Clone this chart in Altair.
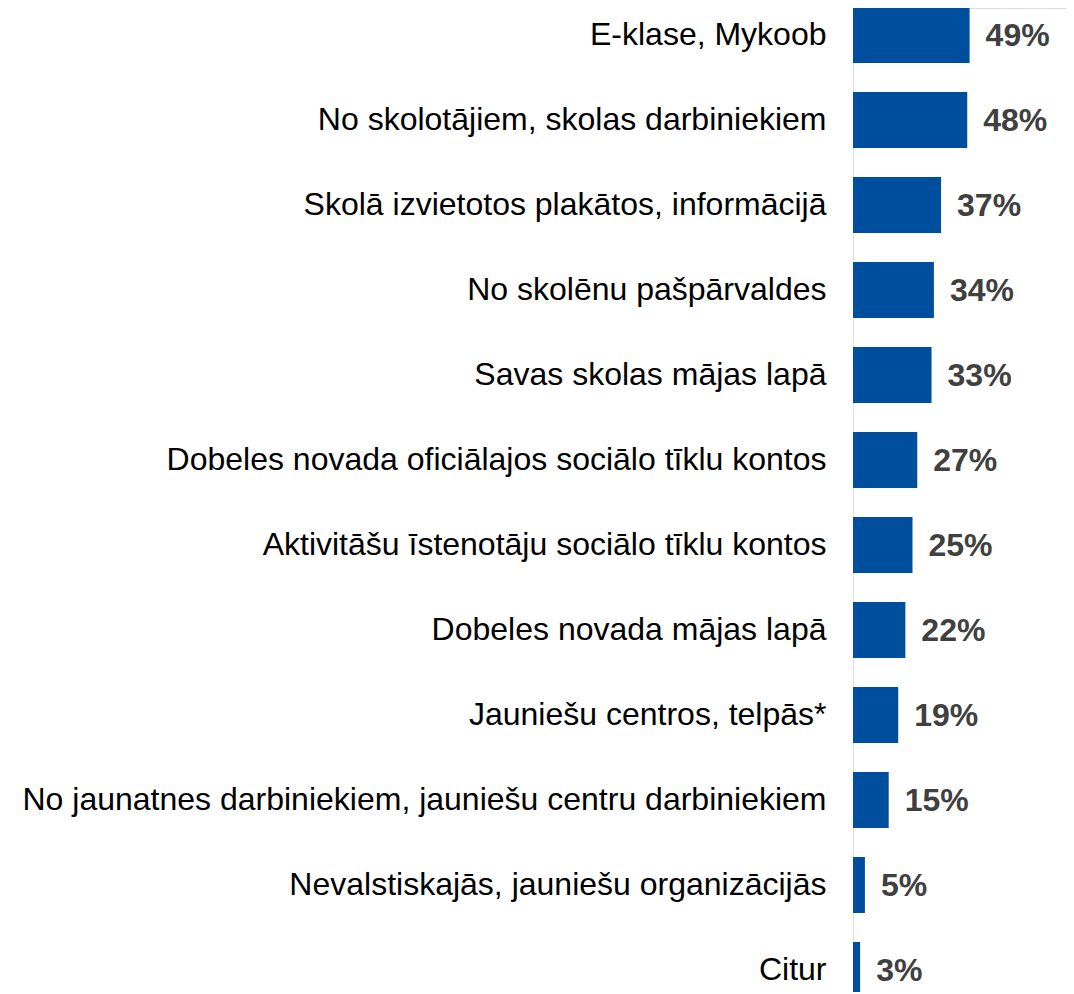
import altair as alt
import pandas as pd

categories = [
    "E-klase, Mykoob",
    "No skolotājiem, skolas darbiniekiem",
    "Skolā izvietotos plakātos, informācijā",
    "No skolēnu pašpārvaldes",
    "Savas skolas mājas lapā",
    "Dobeles novada oficiālajos sociālo tīklu kontos",
    "Aktivitāšu īstenotāju sociālo tīklu kontos",
    "Dobeles novada mājas lapā",
    "Jauniešu centros, telpās*",
    "No jaunatnes darbiniekiem, jauniešu centru darbiniekiem",
    "Nevalstiskajās, jauniešu organizācijās",
    "Citur",
]
values = [49, 48, 37, 34, 33, 27, 25, 22, 19, 15, 5, 3]
labels = [f"{v}%" for v in values]

df = pd.DataFrame({"cat": categories, "val": values, "lab": labels})

y = alt.Y(
    "cat:N",
    sort=categories,
    title=None,
    scale=alt.Scale(range=[-1, 990], paddingInner=0.341, paddingOuter=0),
    axis=alt.Axis(
        domain=False,
        ticks=False,
        grid=False,
        labelFont="Liberation Sans",
        labelFontSize=32,
        labelColor="#000000",
        labelPadding=27,
        labelLimit=2000,
    ),
)
x = alt.X(
    "val:Q",
    scale=alt.Scale(domain=[0, 89.5]),
    axis=None,
)

bars = alt.Chart(df).mark_bar(color="#004F9F").encode(x=x, y=y)
text = alt.Chart(df).mark_text(
    align="left",
    baseline="middle",
    dx=16,
    dy=1,
    font="Liberation Sans",
    fontSize=32,
    fontWeight="bold",
    color="#404040",
).encode(x=x, y=y, text="lab:N")

chart = (
    (bars + text)
    .properties(
        width=213,
        height=984,
        autosize=alt.AutoSizeParams(type="none"),
        padding={"left": 845, "top": 0, "right": 0, "bottom": 0},
    )
    .configure_view(stroke="transparent", strokeWidth=0)
    .configure_axis(grid=False, domain=False)
    .configure(background="white")
)

chart.save("out.html", embed_options={"renderer": "svg", "actions": False})
